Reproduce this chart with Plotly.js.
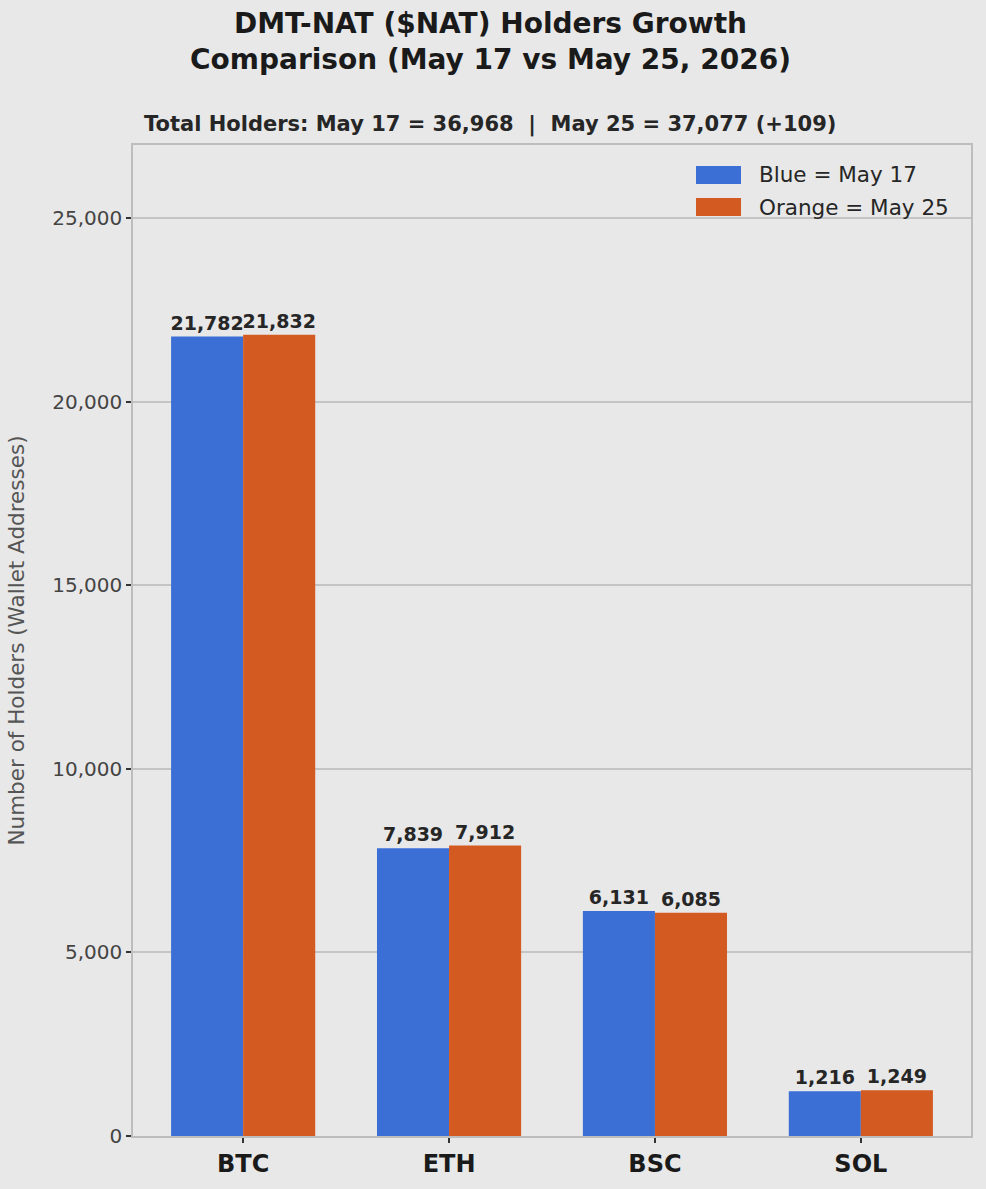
<!DOCTYPE html>
<html>
<head>
<meta charset="utf-8">
<script src="https://cdn.plot.ly/plotly-3.0.1.min.js"></script>
<style>
  html, body { margin: 0; padding: 0; background: #e8e8e8; }
  #chart { width: 986px; height: 1189px; }
</style>
</head>
<body>
<div id="chart"></div>
<script>
const chains = ["BTC", "ETH", "BSC", "SOL"];
const may17 = [21782, 7839, 6131, 1216];
const may25 = [21832, 7912, 6085, 1249];
const yTicks = [0, 5000, 10000, 15000, 20000, 25000];
// totals as printed on the source chart
const totalMay17 = 36968;
const totalMay25 = 37077;
const legendNames = ["Blue = May 17", "Orange = May 25"];
const colors = ["#3b6fd5", "#d35a20"];

const fmt = (n) => n.toLocaleString("en-US");

const font = "DejaVu Sans, sans-serif";
const labelFont = { family: font, size: 19, color: "#262626", weight: "bold" };

const traces = [may17, may25].map((vals, i) => ({
  name: legendNames[i],
  type: "bar",
  x: chains,
  y: vals,
  marker: { color: colors[i] },
  text: vals.map(fmt),
  textposition: "outside",
  textfont: labelFont,
  constraintext: "none",
  cliponaxis: false,
  hoverinfo: "x+y",
}));

// plot area in pixels: x 133..971, y 145..1136
const px = (x) => (x - 133) / 838;
const py = (y) => (1136 - y) / 991;

const annotations = [
  {
    text: "DMT-NAT ($NAT) Holders Growth<br>Comparison (May 17 vs May 25, 2026)",
    xref: "paper", yref: "paper",
    x: px(490), y: py(42),
    xanchor: "center", yanchor: "middle",
    showarrow: false,
    font: { family: font, size: 28, color: "#1a1a1a", weight: "bold" },
  },
  {
    text: `Total Holders: May 17 = ${fmt(totalMay17)}  |  May 25 = ${fmt(totalMay25)} (+${totalMay25 - totalMay17})`,
    xref: "paper", yref: "paper",
    x: px(490), y: py(125),
    xanchor: "center", yanchor: "middle",
    showarrow: false,
    font: { family: font, size: 21, color: "#262626", weight: "bold" },
  },
];

// hand-drawn legend so the swatches are wide patches like the source
const shapes = [];
legendNames.forEach((name, i) => {
  const cy = 175 + i * 32;
  shapes.push({
    type: "rect", xref: "paper", yref: "paper",
    x0: px(696), x1: px(741), y0: py(cy - 9), y1: py(cy + 9),
    fillcolor: colors[i], line: { width: 0 },
  });
  annotations.push({
    text: name,
    xref: "paper", yref: "paper",
    x: px(757), y: py(cy),
    xanchor: "left", yanchor: "middle",
    showarrow: false,
    font: { family: font, size: 21.5, color: "#262626" },
  });
});

const layout = {
  width: 986,
  height: 1189,
  margin: { l: 133, r: 15, t: 145, b: 53 },
  paper_bgcolor: "#e8e8e8",
  plot_bgcolor: "#e8e8e8",
  font: { family: font, color: "#444" },
  barmode: "group",
  bargap: 0.3,
  bargroupgap: 0,
  showlegend: false,
  annotations: annotations,
  shapes: shapes,
  xaxis: {
    type: "category",
    range: [-0.535, 3.535],
    showgrid: false,
    zeroline: false,
    showline: true,
    mirror: true,
    linecolor: "#bdbdbd",
    linewidth: 1.5,
    ticks: "outside",
    ticklen: 5,
    tickwidth: 1.5,
    tickcolor: "#333",
    tickfont: { family: font, size: 24, color: "#1a1a1a", weight: "bold" },
    fixedrange: true,
  },
  yaxis: {
    range: [0, 27000],
    tickvals: yTicks,
    ticktext: yTicks.map(fmt),
    showgrid: true,
    gridcolor: "#c4c4c4",
    gridwidth: 1.5,
    zeroline: false,
    showline: true,
    mirror: true,
    linecolor: "#bdbdbd",
    linewidth: 1.5,
    ticks: "outside",
    ticklen: 5,
    tickwidth: 1.5,
    tickcolor: "#333",
    tickfont: { family: font, size: 20, color: "#444" },
    title: {
      text: "Number of Holders (Wallet Addresses)",
      font: { family: font, size: 21.5, color: "#555" },
      standoff: 22,
    },
    fixedrange: true,
  },
};

Plotly.newPlot("chart", traces, layout, { displayModeBar: false, responsive: false });
</script>
</body>
</html>
